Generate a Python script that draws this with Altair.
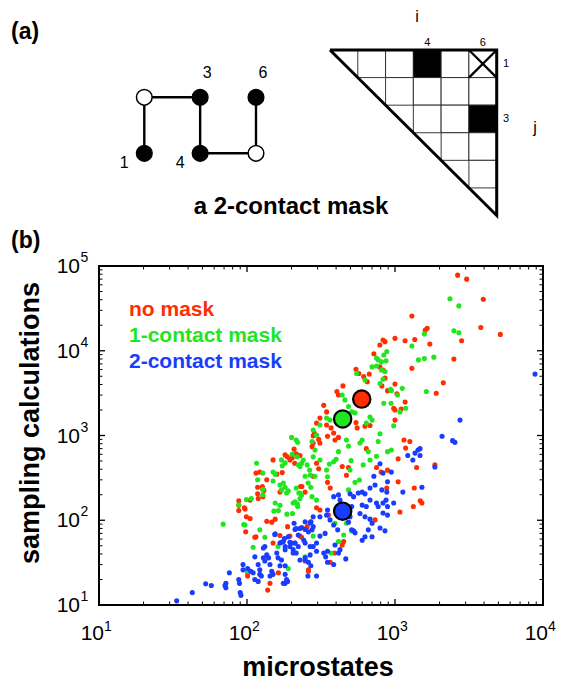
import altair as alt
import pandas as pd

FONT = "Liberation Sans"
RED, GREEN, BLUE = "#ff2d00", "#1fe61f", "#1a3cff"

# ---------------- panel (b): sampling cost vs. number of microstates ----------------
no_mask_x = [
    2650, 3050, 3950, 3800, 5150, 1300, 1650, 1600, 1720, 1000,
    1170, 1360, 2820, 2500, 830, 856, 790, 720, 1300, 2120,
    1900, 545, 570, 670, 615, 650, 790, 830, 856, 1000,
    815, 890, 1030, 445, 415, 405, 1170, 1100, 1000, 980,
    545, 555, 627, 678, 330, 345, 311, 295, 1000, 345,
    370, 385, 350, 285, 305, 311, 280, 415, 393, 640,
    1150, 1260, 1180, 1050, 1400, 1860, 485, 440, 215, 195,
    210, 228, 305, 295, 280, 470, 750, 805, 890, 1050,
    880, 1350, 1480, 1520, 1330, 1080, 235, 247, 350, 365,
    295, 311, 270, 255, 355, 733, 450, 440, 390, 365,
    260, 195, 228, 88, 88, 97, 99, 98, 105, 101,
    101, 115, 115, 122, 127, 128, 128, 136, 147, 155,
    136, 150, 159, 173, 181, 187, 202, 167, 188, 167,
    113, 138, 150, 163, 143, 211, 247, 260, 118, 130,
    118, 230, 88, 96, 119, 105, 234, 208, 280, 275,
]
no_mask_y = [
    78000, 70000, 40500, 18800, 15600, 25700, 18400, 17500, 12000, 14000,
    13100, 13600, 13100, 8000, 13400, 12800, 11700, 9200, 6200, 4200,
    3150, 6050, 5400, 5300, 4950, 4300, 6450, 5930, 4750, 4050,
    3850, 3380, 3100, 3850, 3010, 3300, 2480, 2050, 2000, 2100,
    1420, 1230, 1290, 1310, 2270, 1900, 1610, 1400, 1520, 1330,
    1230, 1070, 980, 1070, 900, 815, 815, 950, 885, 700,
    885, 850, 710, 530, 420, 450, 420, 430, 610, 515,
    470, 580, 405, 470, 330, 340, 420, 370, 390, 285,
    240, 240, 170, 160, 145, 125, 250, 215, 280, 240,
    140, 132, 95, 84, 115, 101, 56, 51, 41, 32,
    25, 65, 65, 150, 130, 136, 110, 73, 173, 24,
    22, 64, 360, 370, 250, 230, 190, 97, 95, 103,
    300, 515, 350, 365, 590, 560, 545, 215, 84, 66,
    63, 15, 54, 24, 18, 54, 33, 26, 245, 225,
    205, 250, 170, 140, 180, 105, 63, 690, 990, 740,
]

one_contact_x = [
    2350, 2700, 2500, 2700, 1580, 1300, 1440, 1580, 1830, 1630,
    880, 840, 810, 870, 750, 770, 750, 810, 856, 550,
    1120, 945, 1040, 1080, 1180, 940, 840, 440, 459, 485,
    510, 537, 678, 700, 640, 345, 311, 364, 280, 295,
    792, 770, 980, 600, 580, 470, 485, 945, 890, 750,
    660, 678, 610, 505, 497, 415, 400, 385, 360, 288,
    280, 311, 240, 255, 265, 228, 345, 350, 537, 575,
    485, 275, 295, 215, 228, 205, 220, 393, 470, 510,
    450, 415, 370, 280, 69, 95, 99, 107, 88, 97,
    116, 118, 128, 128, 128, 132, 122, 150, 155, 150,
    171, 173, 181, 202, 218, 223, 234, 167, 176, 181,
    171, 190, 185, 155, 167, 163, 152, 211, 219, 228,
    234, 224, 186, 203, 259, 270, 247, 267, 288, 110,
    162, 101, 190, 247, 200, 215, 220, 275, 627, 830,
    792, 935, 700,
]
one_contact_y = [
    41000, 33800, 17200, 16300, 15800, 11400, 7800, 8100, 8400, 3300,
    9800, 8900, 7400, 7600, 8200, 7800, 6600, 5930, 5700, 5400,
    3600, 3400, 3000, 1900, 2100, 2400, 2400, 3000, 2630, 2200,
    1900, 1850, 1650, 1520, 1400, 1610, 1330, 1520, 1160, 1010,
    1050, 850, 1300, 885, 815, 885, 750, 675, 645, 570,
    645, 514, 450, 505, 392, 645, 525, 490, 460, 675,
    560, 514, 514, 450, 392, 430, 392, 325, 280, 299,
    228, 190, 173, 240, 210, 160, 145, 92, 92, 75,
    67, 56, 41, 65, 90, 89, 176, 180, 152, 88,
    470, 300, 360, 230, 200, 63, 77, 370, 350, 290,
    515, 440, 475, 600, 560, 450, 470, 261, 275, 245,
    228, 222, 210, 160, 150, 130, 128, 165, 155, 180,
    199, 210, 118, 120, 275, 245, 330, 342, 330, 48,
    49, 25, 27, 37, 950, 885, 830, 850, 4520, 4600,
    4100, 3500, 6450,
]

two_contact_x = [
    8830, 2750, 2080, 2450, 2540, 1476, 1476, 1860, 1220, 1365,
    1430, 1320, 1520, 1130, 945, 890, 830, 792, 720, 733,
    678, 815, 870, 890, 830, 770, 678, 640, 600, 580,
    627, 525, 565, 510, 497, 485, 510, 700, 660, 700,
    792, 856, 600, 465, 425, 415, 393, 337, 311, 295,
    410, 385, 364, 350, 345, 311, 425, 415, 385, 280,
    267, 275, 247, 228, 222, 242, 211, 195, 181, 205,
    280, 295, 267, 247, 330, 340, 350, 258, 295, 185,
    176, 350, 385, 33.5, 42.7, 52.6, 57.4, 71, 72, 72,
    76, 88, 89, 90, 91, 94, 94, 101, 106, 110,
    113, 122, 119, 122, 125, 119, 113, 129, 129, 132,
    136, 140, 143, 132, 147, 143, 150, 154, 159, 162,
    171, 167, 181, 181, 181, 200, 205, 215, 167, 176,
    228, 247, 260, 270, 188, 208, 215, 234, 247, 211,
    270, 280, 260, 155, 179, 190, 171, 181, 195, 222,
    247, 267, 880, 980, 830, 890, 627, 678, 525, 537,
    627, 600, 497, 750,
]
two_contact_y = [
    5300, 1520, 980, 870, 830, 700, 580, 425, 580, 620,
    675, 514, 245, 215, 370, 285, 360, 465, 330, 261,
    240, 228, 173, 145, 160, 145, 173, 145, 151, 120,
    110, 190, 210, 145, 110, 95, 77, 92, 77, 64,
    81, 75, 58, 35, 45, 41, 51, 70, 65, 54,
    77, 88, 101, 132, 115, 110, 173, 199, 190, 110,
    93, 77, 96, 80, 67, 58, 54, 49, 45, 41,
    49, 43, 39, 34, 41, 37, 43, 22, 22, 20,
    18, 32, 30, 11.2, 14, 17.8, 17, 17, 16, 18,
    24, 20, 18, 14, 13, 30, 26, 27, 25, 24,
    20, 23, 30, 26, 22, 19, 37, 47, 36, 49,
    39, 36, 30, 33, 25, 22, 23, 68, 41, 36,
    34, 29, 29, 23, 18, 54, 45, 41, 54, 56,
    34, 36, 32, 29, 19, 92, 80, 82, 78, 78,
    96, 84, 73, 69, 61, 64, 55, 49, 55, 49,
    54, 49, 215, 160, 122, 115, 64, 103, 75, 71,
    205, 215, 205, 160,
]

series_names = ["no mask", "1-contact mask", "2-contact mask"]
series_colors = [RED, GREEN, BLUE]
mean_x = [596, 443, 443]
mean_y = [2690, 1567, 128]

x_decades = [10, 100, 1000, 10000]
x_exponents = ["1", "2", "3", "4"]
y_decades = [10, 100, 1000, 10000, 100000]
y_exponents = ["1", "2", "3", "4", "5"]

# ---------------- panel (a): lattice conformation and its contact map ----------------
chain_residue = [1, 2, 3, 4, 5, 6]
chain_col = [0, 0, 1, 1, 2, 2]
chain_row = [1, 0, 0, 1, 1, 0]
chain_type = ["H", "P", "H", "H", "P", "H"]
contact_i = [4, 6]
contact_j = [1, 3]
masked_i, masked_j = 6, 1
chain_length = 6

# ---------------- scales ----------------
XB = dict(type="log", domain=[10, 10000], range=[99, 543], nice=False)
YB = dict(type="log", domain=[10, 100000], range=[605, 266], nice=False)
XA = dict(domain=[0, 2], range=[144.3, 256], nice=False, zero=False)
YA = dict(domain=[0, 1], range=[97.3, 153.3], nice=False, zero=False)
XM = dict(domain=[0, 6], range=[330, 496.7], nice=False, zero=False)
YM = dict(domain=[0, 6], range=[50, 215.5], nice=False, zero=False)


def xs(field, sc):
    return alt.X(field, scale=alt.Scale(**sc), axis=None)


def ys(field, sc):
    return alt.Y(field, scale=alt.Scale(**sc), axis=None)


def label(text, x, y, size, bold=False, **kw):
    return alt.Chart(pd.DataFrame({"t": [text]})).mark_text(
        font=FONT, fontSize=size, fontWeight="bold" if bold else "normal",
        color=kw.pop("color", "black"), **kw
    ).encode(text="t:N", x=alt.value(x), y=alt.value(y))


layers = []

# ---- panel (b) ----
scatter = pd.concat([
    pd.DataFrame({"m": no_mask_x, "s": no_mask_y, "series": series_names[0]}),
    pd.DataFrame({"m": one_contact_x, "s": one_contact_y, "series": series_names[1]}),
    pd.DataFrame({"m": two_contact_x, "s": two_contact_y, "series": series_names[2]}),
], ignore_index=True)
series_scale = alt.Scale(domain=series_names, range=series_colors)

layers.append(
    alt.Chart(scatter).mark_circle(size=26, opacity=1).encode(
        x=xs("m:Q", XB), y=ys("s:Q", YB),
        color=alt.Color("series:N", scale=series_scale, legend=None),
    )
)
means = pd.DataFrame({"m": mean_x, "s": mean_y, "series": series_names})
layers.append(
    alt.Chart(means).mark_circle(size=300, opacity=1, stroke="black", strokeWidth=2.2).encode(
        x=xs("m:Q", XB), y=ys("s:Q", YB),
        color=alt.Color("series:N", scale=series_scale, legend=None),
    )
)

# frame
frame = pd.DataFrame({"x": [x_decades[0]], "x2": [x_decades[-1]],
                      "y": [y_decades[0]], "y2": [y_decades[-1]]})
layers.append(
    alt.Chart(frame).mark_rect(fillOpacity=0, stroke="black", strokeWidth=2).encode(
        x=xs("x:Q", XB), x2="x2:Q", y=ys("y:Q", YB), y2="y2:Q"
    )
)

# inward ticks on all four sides
def minor(decades):
    return [k * d for d in decades[:-1] for k in range(2, 10)]


for vals, length, w in [(x_decades, 6, 1.3), (minor(x_decades), 3.5, 1)]:
    d = pd.DataFrame({"v": vals})
    for y0, sgn in [(605, -1), (266, 1)]:
        layers.append(alt.Chart(d).mark_rule(color="black", strokeWidth=w).encode(
            x=xs("v:Q", XB), y=alt.value(y0), y2=alt.value(y0 + sgn * length)))
for vals, length, w in [(y_decades, 6, 1.3), (minor(y_decades), 3.5, 1)]:
    d = pd.DataFrame({"v": vals})
    for x0, sgn in [(99, 1), (543, -1)]:
        layers.append(alt.Chart(d).mark_rule(color="black", strokeWidth=w).encode(
            y=ys("v:Q", YB), x=alt.value(x0), x2=alt.value(x0 + sgn * length)))

# tick labels written as 10 with a raised exponent
xt = pd.DataFrame({"v": x_decades, "e": x_exponents, "b": ["10"] * len(x_decades)})
layers.append(alt.Chart(xt).mark_text(font=FONT, fontSize=21, align="right", dx=5,
                                      baseline="alphabetic").encode(
    x=xs("v:Q", XB), y=alt.value(640), text="b:N"))
layers.append(alt.Chart(xt).mark_text(font=FONT, fontSize=14, align="left", dx=5,
                                      baseline="alphabetic").encode(
    x=xs("v:Q", XB), y=alt.value(631), text="e:N"))
yt = pd.DataFrame({"v": y_decades, "e": y_exponents, "b": ["10"] * len(y_decades)})
layers.append(alt.Chart(yt).mark_text(font=FONT, fontSize=21, align="right",
                                      baseline="middle", dy=1).encode(
    y=ys("v:Q", YB), x=alt.value(80), text="b:N"))
layers.append(alt.Chart(yt).mark_text(font=FONT, fontSize=14, align="left",
                                      baseline="middle", dy=-8).encode(
    y=ys("v:Q", YB), x=alt.value(80.5), text="e:N"))

# axis titles and legend text
layers.append(label("sampling calculations", 31, 423, 27, bold=True, angle=270,
                    align="center", baseline="middle"))
layers.append(label("microstates", 318, 676, 27, bold=True, align="center",
                    baseline="alphabetic"))
for k, (name, col) in enumerate(zip(series_names, series_colors)):
    layers.append(label(name, 129, 310 + 26 * k, 21, bold=True, align="left",
                        baseline="middle", color=col))

# panel letters
layers.append(label("(a)", 11, 39, 23, bold=True, align="left", baseline="alphabetic"))
layers.append(label("(b)", 11, 248, 23, bold=True, align="left", baseline="alphabetic"))

# ---- panel (a): lattice ----
chain = pd.DataFrame({"res": chain_residue, "c": chain_col, "r": chain_row,
                      "kind": chain_type})
layers.append(alt.Chart(chain).mark_line(color="black", strokeWidth=2.4).encode(
    x=xs("c:Q", XA), y=ys("r:Q", YA), order="res:Q"))
layers.append(alt.Chart(chain).mark_circle(size=245, opacity=1, stroke="black",
                                           strokeWidth=1.5).encode(
    x=xs("c:Q", XA), y=ys("r:Q", YA),
    fill=alt.Fill("kind:N", scale=alt.Scale(domain=["H", "P"], range=["black", "white"]),
                  legend=None)))
layers.append(alt.Chart(chain).transform_filter(
    "datum.kind == 'H' && datum.r == 0").mark_text(
    font=FONT, fontSize=16, dx=7, dy=-24).encode(
    x=xs("c:Q", XA), y=ys("r:Q", YA), text="res:N"))
layers.append(alt.Chart(chain).transform_filter(
    "datum.kind == 'H' && datum.r == 1").mark_text(
    font=FONT, fontSize=16, dx=-20, dy=10).encode(
    x=xs("c:Q", XA), y=ys("r:Q", YA), text="res:N"))

layers.append(label("a 2-contact mask", 291, 214, 24, bold=True, align="center",
                    baseline="alphabetic"))

# ---- panel (a): contact map (upper triangle, i > j) ----
cells = []
for j in range(1, chain_length):
    for i in range(j + 1, chain_length + 1):
        hit = any(i == ci and j == cj for ci, cj in zip(contact_i, contact_j))
        cells.append({"c": i - 1, "c2": i, "r": j - 1, "r2": j,
                      "kind": "contact" if hit else "open"})
cells = pd.DataFrame(cells)
layers.append(alt.Chart(cells).mark_rect(stroke="#222222", strokeWidth=0.9).encode(
    x=xs("c:Q", XM), x2="c2:Q", y=ys("r:Q", YM), y2="r2:Q",
    fill=alt.Fill("kind:N", scale=alt.Scale(domain=["contact", "open"],
                                            range=["black", "white"]), legend=None)))

# crossed-out cell
cross = pd.DataFrame({"c": [masked_i - 1, masked_i], "c2": [masked_i, masked_i - 1],
                      "r": [masked_j - 1, masked_j - 1], "r2": [masked_j, masked_j]})
layers.append(alt.Chart(cross).mark_rule(color="black", strokeWidth=2.3).encode(
    x=xs("c:Q", XM), x2="c2:Q", y=ys("r:Q", YM), y2="r2:Q"))

# triangle outline
outline = pd.DataFrame({"o": [0, 1, 2, 3], "c": [0, chain_length, chain_length, 0],
                        "r": [0, 0, chain_length, 0]})
layers.append(alt.Chart(outline).mark_line(color="black", strokeWidth=3,
                                           strokeJoin="miter").encode(
    x=xs("c:Q", XM), y=ys("r:Q", YM), order="o:Q"))

# residue numbers along the map edges
col_lab = pd.DataFrame({"c": [i - 0.5 for i in contact_i], "t": contact_i})
layers.append(alt.Chart(col_lab).mark_text(font=FONT, fontSize=11, baseline="alphabetic").encode(
    x=xs("c:Q", XM), y=alt.value(46), text="t:N"))
row_lab = pd.DataFrame({"r": [j - 0.5 for j in contact_j], "t": contact_j})
layers.append(alt.Chart(row_lab).mark_text(font=FONT, fontSize=11, align="left",
                                            baseline="middle").encode(
    y=ys("r:Q", YM), x=alt.value(503), text="t:N"))
layers.append(label("i", 417, 17, 16, align="center", baseline="middle"))
layers.append(label("j", 535, 128, 16, align="center", baseline="middle"))

chart = alt.layer(*layers).resolve_scale(x="independent", y="independent").properties(
    width=561, height=681, padding=0,
    autosize=alt.AutoSizeParams(type="none"),
    background="white",
).configure_view(strokeWidth=0)

chart.save("out.html", embed_options={"renderer": "svg", "actions": False})
